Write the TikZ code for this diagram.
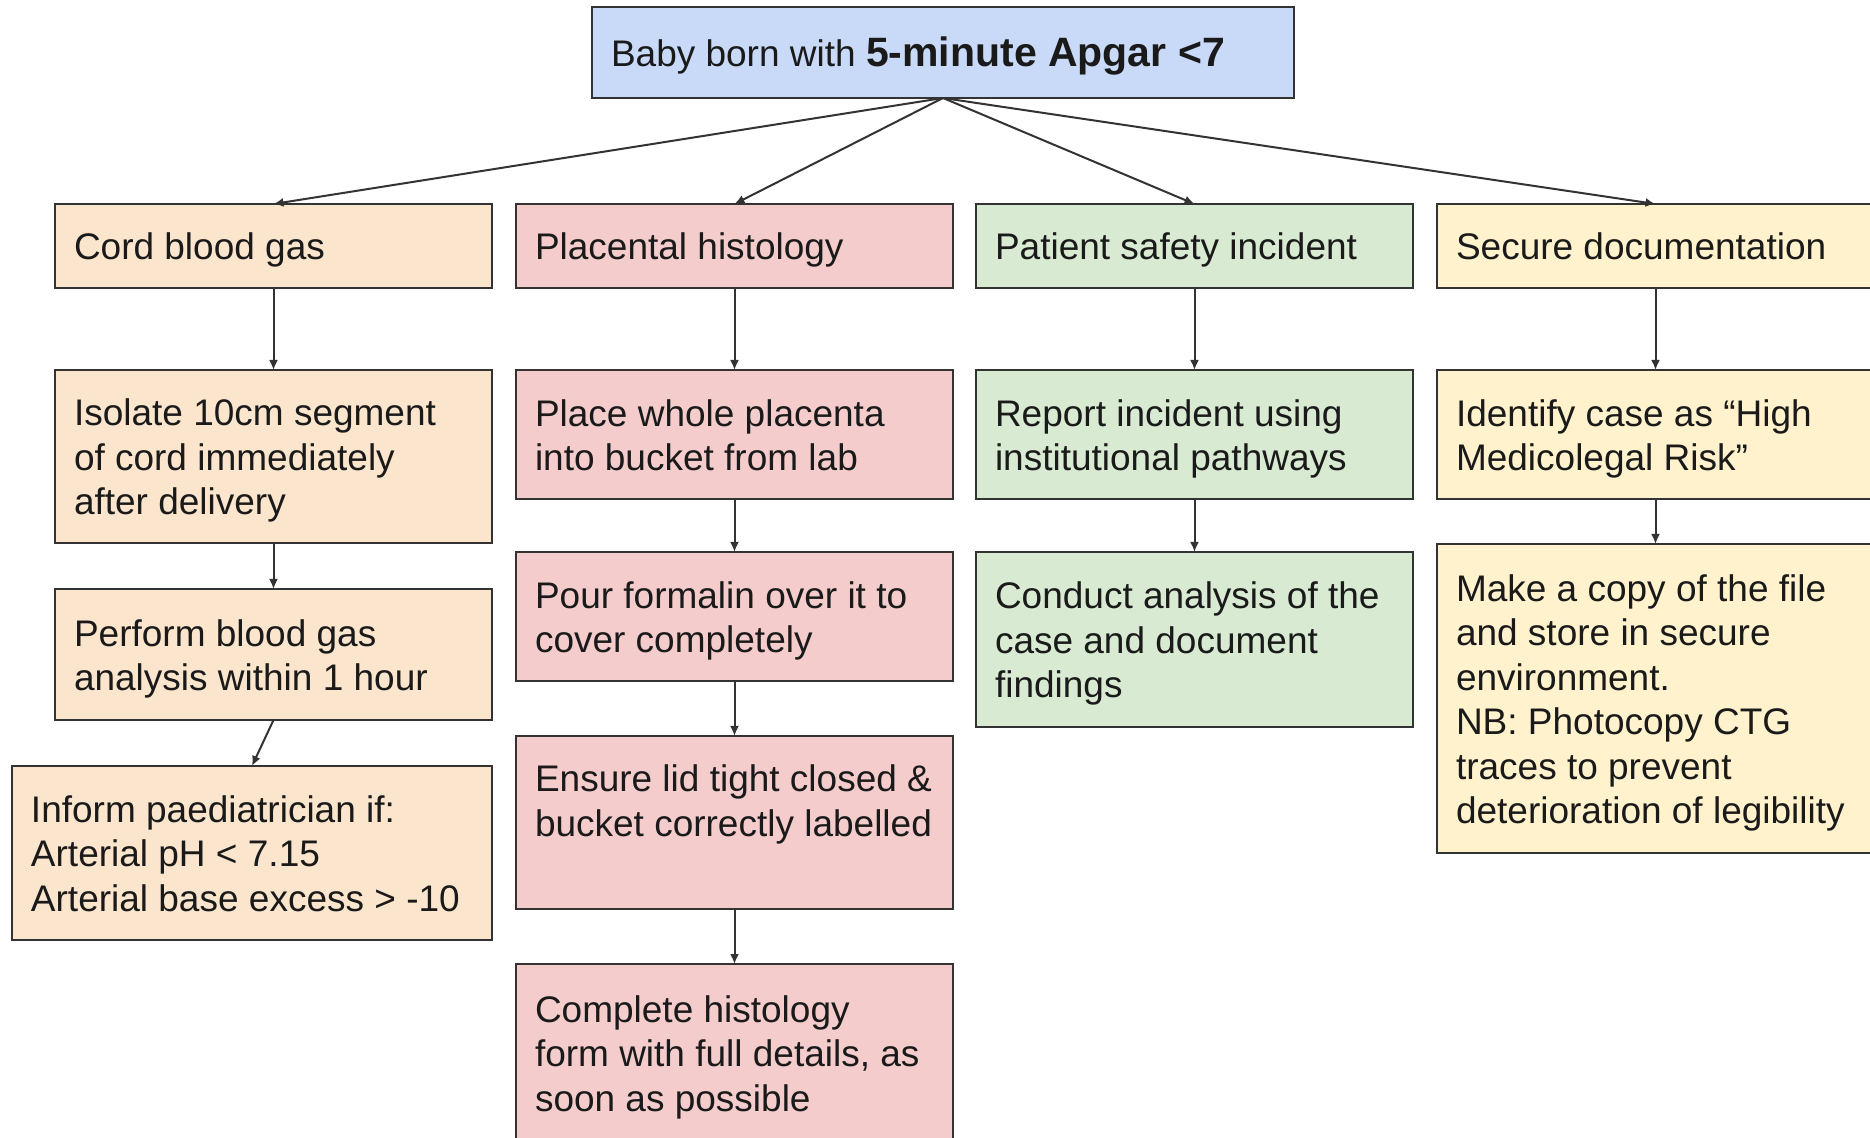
\documentclass[tikz,border=0pt]{standalone}
\usepackage{fontspec}
\setmainfont{Liberation Sans}
\usetikzlibrary{arrows.meta}

\definecolor{topblue}{HTML}{C9DAF8}
\definecolor{gasorange}{HTML}{FCE5CD}
\definecolor{histpink}{HTML}{F4CCCC}
\definecolor{safegreen}{HTML}{D9EAD3}
\definecolor{docyellow}{HTML}{FFF2CC}
\definecolor{edgegray}{HTML}{333333}
\definecolor{inkblack}{HTML}{1A1A1A}

% left-aligned block of lines, padded to a fixed width and set a little low
\newcommand{\boxtext}[2]{\raisebox{-2.5pt}[\height][\depth]{\makebox[#1][l]{\begin{tabular}{@{}l@{}}#2\end{tabular}}}}

\begin{document}
\begin{tikzpicture}[x=0.5pt,y=-0.5pt,
  box/.style={draw=edgegray, line width=1pt, anchor=north west,
    inner xsep=9.5pt, inner ysep=0pt, outer sep=0pt,
    minimum width=218.5pt, text=inkblack,
    font=\fontsize{18.5pt}{22.25pt}\selectfont},
  link/.style={draw=edgegray, line width=1pt,
    -{Latex[length=5pt,width=4.5pt]}}]

\useasboundingbox (0,0) rectangle (1870,1138);
\fill[white] (0,0) rectangle (1870,1138);
\clip (0,0) rectangle (1870,1138);

% root
\node[box, fill=topblue, minimum width=351pt, minimum height=45.5pt] (root) at (592,7)
  {\boxtext{332pt}{Baby born with {\fontsize{20.5pt}{24pt}\selectfont\bfseries 5-minute Apgar <7}}};

% cord blood gas column
\node[box, fill=gasorange, minimum height=42pt] (cord) at (55,204)
  {\boxtext{199.5pt}{Cord blood gas}};
\node[box, fill=gasorange, minimum height=86.5pt] (iso) at (55,370)
  {\boxtext{199.5pt}{Isolate 10cm segment\\ of cord immediately\\ after delivery}};
\node[box, fill=gasorange, minimum height=65.5pt] (perf) at (55,589)
  {\boxtext{199.5pt}{Perform blood gas\\ analysis within 1 hour}};
\node[box, fill=gasorange, minimum width=240pt, minimum height=87pt] (inf) at (12,766)
  {\boxtext{221pt}{Inform paediatrician if:\\ Arterial pH < 7.15\\ Arterial base excess > -10}};

% placental histology column
\node[box, fill=histpink, minimum height=42pt] (plac) at (516,204)
  {\boxtext{199.5pt}{Placental histology}};
\node[box, fill=histpink, minimum height=64.5pt] (place) at (516,370)
  {\boxtext{199.5pt}{Place whole placenta\\ into bucket from lab}};
\node[box, fill=histpink, minimum height=64.5pt] (pour) at (516,552)
  {\boxtext{199.5pt}{Pour formalin over it to\\ cover completely}};
\node[box, fill=histpink, minimum height=86.5pt] (lid) at (516,736)
  {\boxtext{199.5pt}{Ensure lid tight closed \&\\ bucket correctly labelled\\ \mbox{}}};
\node[box, fill=histpink, minimum height=89pt] (form) at (516,964)
  {\boxtext{199.5pt}{Complete histology\\ form with full details, as\\ soon as possible}};

% patient safety column
\node[box, fill=safegreen, minimum height=42pt] (psi) at (976,204)
  {\boxtext{199.5pt}{Patient safety incident}};
\node[box, fill=safegreen, minimum height=64.5pt] (rep) at (976,370)
  {\boxtext{199.5pt}{Report incident using\\ institutional pathways}};
\node[box, fill=safegreen, minimum height=87.5pt] (ana) at (976,552)
  {\boxtext{199.5pt}{Conduct analysis of the\\ case and document\\ findings}};

% documentation column
\node[box, fill=docyellow, minimum height=42pt] (sec) at (1437,204)
  {\boxtext{199.5pt}{Secure documentation}};
\node[box, fill=docyellow, minimum height=64.5pt] (ident) at (1437,370)
  {\boxtext{199.5pt}{Identify case as “High\\ Medicolegal Risk”}};
\node[box, fill=docyellow, minimum height=154.5pt] (copy) at (1437,544)
  {\boxtext{199.5pt}{Make a copy of the file\\ and store in secure\\ environment.\\ NB: Photocopy CTG\\ traces to prevent\\ deterioration of legibility}};

% connectors
\draw[link] (root.south) -- (cord.north);
\draw[link] (root.south) -- (plac.north);
\draw[link] (root.south) -- (psi.north);
\draw[link] (root.south) -- (sec.north);

\draw[link] (cord.south) -- (iso.north);
\draw[link] (iso.south) -- (perf.north);
\draw[link] (perf.south) -- (inf.north);

\draw[link] (plac.south) -- (place.north);
\draw[link] (place.south) -- (pour.north);
\draw[link] (pour.south) -- (lid.north);
\draw[link] (lid.south) -- (form.north);

\draw[link] (psi.south) -- (rep.north);
\draw[link] (rep.south) -- (ana.north);

\draw[link] (sec.south) -- (ident.north);
\draw[link] (ident.south) -- (copy.north);
\end{tikzpicture}
\end{document}
